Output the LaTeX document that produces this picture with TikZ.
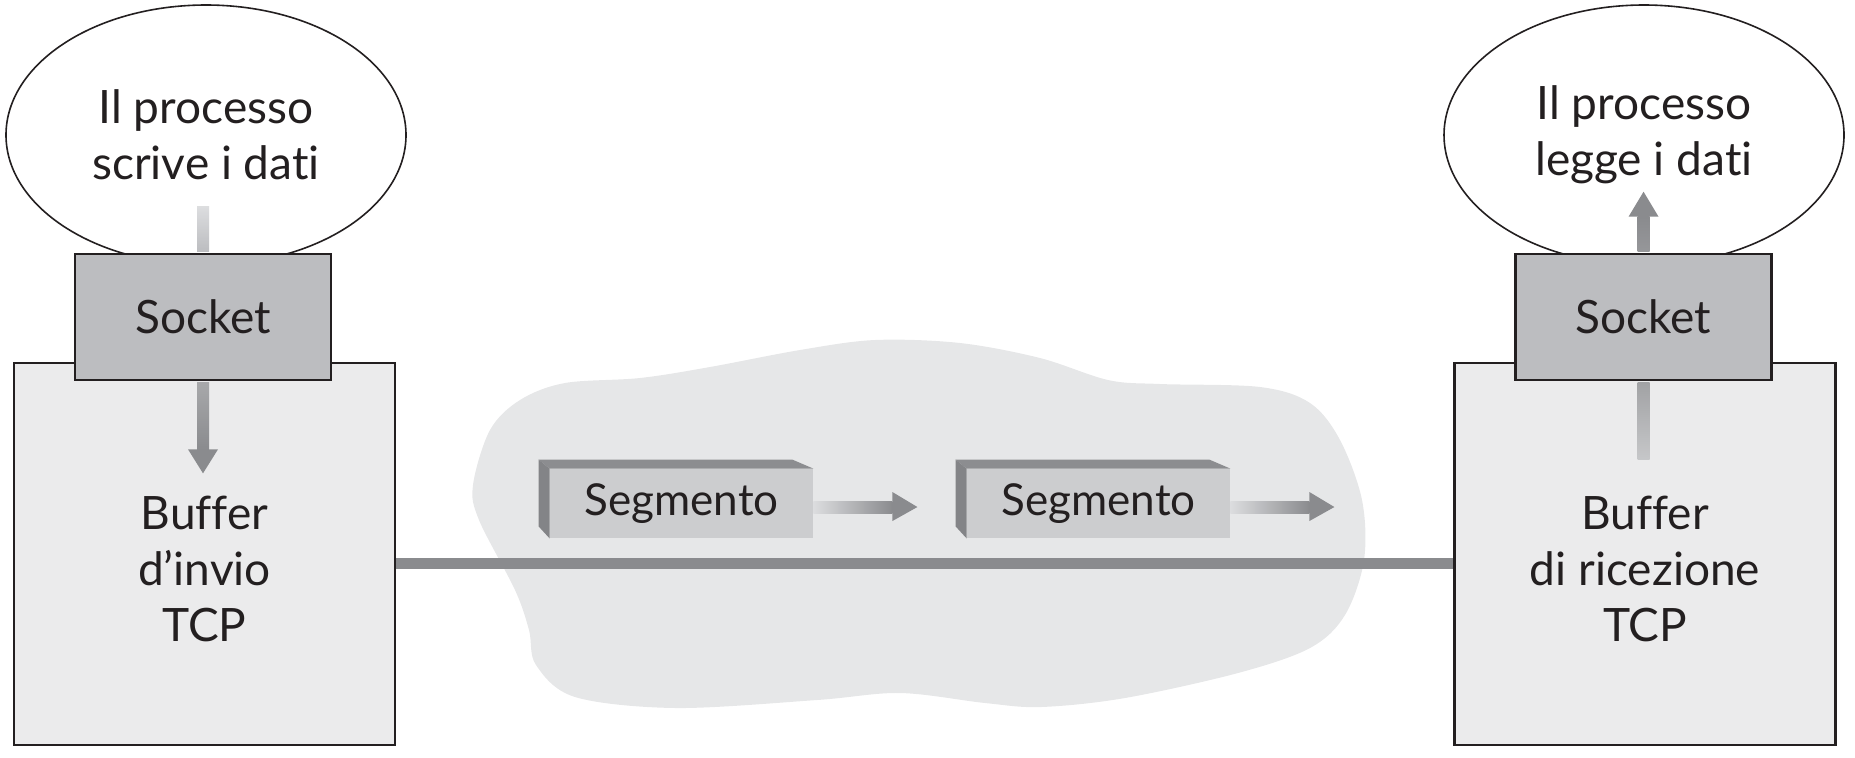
\documentclass[tikz,border=0pt]{standalone}
\usepackage{fontspec}
\setmainfont{Lato}[Ligatures={NoCommon}]
\usepackage{tikz}
\usetikzlibrary{shapes.geometric,calc,positioning}

\definecolor{ink}{HTML}{231F20}
\definecolor{cloudgray}{HTML}{E6E7E8}
\definecolor{sockgray}{HTML}{BCBDC0}
\definecolor{bufgray}{HTML}{EBEBEC}
\definecolor{linegray}{HTML}{8A8B8E}
\definecolor{segface}{HTML}{CCCDCF}
\definecolor{segtop}{HTML}{8C8D90}
\definecolor{segside}{HTML}{838487}
\definecolor{lightarrow}{HTML}{DCDDDF}

\begin{document}
\begin{tikzpicture}[x=0.5pt,y=-0.5pt,
    every node/.style={text=ink,font=\fontsize{23}{28}\selectfont},
    proc/.style={ellipse,draw=ink,line width=0.8pt,fill=white,minimum width=200pt,minimum height=130pt,align=center},
    sock/.style={rectangle,draw=ink,line width=1.3pt,fill=sockgray,minimum width=128pt,minimum height=63pt},
    buf/.style={rectangle,draw=ink,line width=1.3pt,fill=bufgray,minimum width=190.5pt,minimum height=191pt},
    lbl/.style={align=center},
    seg/.style={rectangle,fill=segface,minimum width=131.5pt,minimum height=34.5pt,inner sep=0pt,font=\fontsize{22}{26}\selectfont},
    link/.style={line width=5.5pt,draw=linegray}]
    \useasboundingbox (0,0) rectangle (1855,757);

    % network cloud
    \fill[cloudgray] plot[smooth cycle,tension=0.55] coordinates {
        (473,485) (490,430) (520,400) (565,383) (640,378) (710,367) (800,350)
        (875,340) (960,343) (1040,358) (1108,380) (1160,384) (1260,387)
        (1310,403) (1340,440) (1362,500) (1364,560) (1345,615) (1310,648)
        (1238,673) (1125,698) (1041,707) (985,703) (900,693) (817,700)
        (676,708) (575,697) (536,665) (529,630) (515,590) (479,520)};

    % hosts
    \node[proc] (procL) at (206,135) {Il processo\\scrive i dati};
    \node[proc] (procR) at (1644,135) {Il processo\\legge i dati};
    \node[buf] (bufL) at (204.5,554) {};
    \node[buf] (bufR) at (1645,554) {};
    \node[sock] (sockL) at (203,317) {Socket};
    \node[sock] (sockR) at (1643.5,317) {Socket};
    \node[lbl] (bufLtxt) at (204.5,569) {Buffer\\d’invio\\TCP};
    \node[lbl] (bufRtxt) at (1645,569) {Buffer\\di ricezione\\TCP};

    % write / read arrows
    \coordinate (wL) at ($(sockL.north)+(0,-46)$);
    \coordinate (hL) at ($(sockL.south)+(0,92)$);
    \shade[top color=lightarrow,bottom color=sockgray] ($(wL)+(-6,0)$) rectangle ($(sockL.north)+(6,-1.5)$);
    \shade[top color=linegray!75,bottom color=linegray] ($(sockL.south)+(-6,1.5)$) rectangle ($(hL)+(6,-24)$);
    \fill[linegray] ($(hL)+(-15,-24)$) -- ($(hL)+(15,-24)$) -- (hL) -- cycle;

    \coordinate (wR) at ($(sockR.south)+(0,78)$);
    \coordinate (hR) at ($(sockR.north)+(0,-61)$);
    \shade[top color=linegray!80,bottom color=lightarrow!90!black] ($(sockR.south)+(-6,1.5)$) rectangle ($(wR)+(6,0)$);
    \shade[top color=linegray,bottom color=linegray!90] ($(sockR.north)+(-6,-1.5)$) rectangle ($(hR)+(6,25)$);
    \fill[linegray] ($(hR)+(-15,25)$) -- ($(hR)+(15,25)$) -- (hR) -- cycle;

    % connection
    \draw[link] ([yshift=-4.5pt]bufL.east) -- ([yshift=-4.5pt]bufR.west);

    % segments
    \node[seg] (seg1) at (681.5,503.5) {Segmento};
    \node[seg] (seg2) at (1098.5,503.5) {Segmento};
    \foreach \s in {seg1,seg2} {
        \fill[segtop] (\s.north west) -- (\s.north east) -- ++(-21,-9) -- ($(\s.north west)+(-11,-9)$) -- cycle;
        \fill[segside] (\s.north west) -- ++(-11,-9) -- ($(\s.south west)+(-11,-12)$) -- (\s.south west) -- cycle;
        \coordinate (\s tip) at ($(\s.east)+(104,3.5)$);
        \shade[left color=lightarrow,right color=linegray] ($(\s.east)+(0,-2.5)$) rectangle ($(\s tip)+(-25,6)$);
        \fill[linegray] ($(\s tip)+(-25,-15)$) -- ($(\s tip)+(-25,14)$) -- (\s tip) -- cycle;
    }
\end{tikzpicture}
\end{document}
